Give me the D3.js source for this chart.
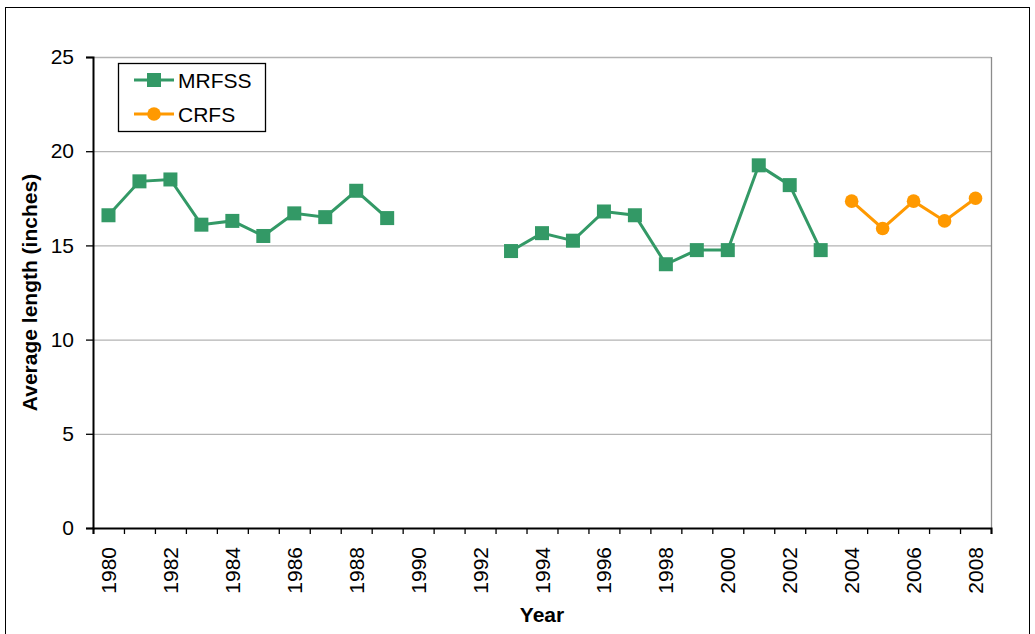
<!DOCTYPE html>
<html>
<head>
  <style>
    body { margin: 0; background: #fff; }
    svg text { font-family: "Liberation Sans", Arial, sans-serif; fill: #000; }
  </style>
</head>
<body>
  <svg width="1035" height="634"></svg>
  <script src="https://d3js.org/d3.v7.min.js"></script>
  <script>
    // data
    const years = d3.range(1980, 2009);
    const mrfssYears = [1980, 1981, 1982, 1983, 1984, 1985, 1986, 1987, 1988, 1989,
                        1993, 1994, 1995, 1996, 1997, 1998, 1999, 2000, 2001, 2002, 2003];
    const mrfssValues = [16.6, 18.4, 18.5, 16.1, 16.3, 15.5, 16.7, 16.5, 17.9, 16.45,
                         14.7, 15.65, 15.25, 16.8, 16.6, 14.0, 14.75, 14.75, 19.25, 18.2, 14.75];
    const crfsYears = [2004, 2005, 2006, 2007, 2008];
    const crfsValues = [17.35, 15.9, 17.35, 16.3, 17.5];
    const yTicks = [0, 5, 10, 15, 20, 25];
    const labelYears = years.filter(d => d % 2 === 0);

    const svg = d3.select("svg");
    const margin = {top: 57, right: 44, bottom: 106, left: 93};
    const width = 1035 - margin.left - margin.right,
          height = 634 - margin.top - margin.bottom;
    const fontSize = "21px";

    // outer frame
    svg.append("rect")
      .attr("x", 5.5).attr("y", 7.5)
      .attr("width", 1024).attr("height", 640)
      .attr("fill", "none").attr("stroke", "#000").attr("stroke-width", 1);

    const g = svg.append("g")
      .attr("transform", "translate(" + margin.left + "," + margin.top + ")");

    // category axis: ticks on year boundaries, points at centres
    const x = d3.scaleLinear().domain([1980, 2009]).range([0, width]);
    const y = d3.scaleLinear().domain([0, 25]).range([height, 0]);

    // gridlines
    g.selectAll(".grid")
      .data(yTicks.filter(d => d > 0))
      .enter().append("line")
      .attr("x1", 0).attr("x2", width)
      .attr("y1", d => y(d) + 0.5).attr("y2", d => y(d) + 0.5)
      .attr("stroke", "#b3b3b3").attr("stroke-width", 1.3);

    // right border of plot area
    g.append("line")
      .attr("x1", width + 0.5).attr("x2", width + 0.5)
      .attr("y1", 0).attr("y2", height)
      .attr("stroke", "#8c8c8c").attr("stroke-width", 1.3);

    // y axis
    const yAxis = g.append("g")
      .call(d3.axisLeft(y).tickValues(yTicks).tickSize(7).tickPadding(12));
    yAxis.select(".domain").attr("stroke", "#000").attr("stroke-width", 2);
    yAxis.selectAll(".tick line").attr("stroke", "#000").attr("stroke-width", 1.3);
    yAxis.selectAll(".tick text")
      .style("font-family", "Liberation Sans, Arial, sans-serif")
      .style("font-size", fontSize).attr("fill", "#000");

    // x axis
    const xAxis = g.append("g")
      .attr("transform", "translate(0," + height + ")")
      .call(d3.axisBottom(x).tickValues(d3.range(1980, 2010)).tickSize(6).tickFormat(""));
    xAxis.select(".domain").attr("stroke", "#000").attr("stroke-width", 2);
    xAxis.selectAll(".tick line").attr("stroke", "#000").attr("stroke-width", 1.3);

    g.selectAll(".xlabel")
      .data(labelYears)
      .enter().append("text")
      .attr("class", "xlabel")
      .attr("transform", d => "translate(" + (x(d + 0.5) + 7.5) + "," + (height + 19) + ") rotate(-90)")
      .attr("text-anchor", "end")
      .style("font-size", fontSize)
      .text(d => d);

    // axis titles
    svg.append("text")
      .attr("x", 542).attr("y", 622)
      .attr("text-anchor", "middle")
      .style("font-size", fontSize).style("font-weight", "bold")
      .text("Year");

    svg.append("text")
      .attr("transform", "translate(37," + (margin.top + height / 2) + ") rotate(-90)")
      .attr("text-anchor", "middle")
      .style("font-size", fontSize).style("font-weight", "bold")
      .text("Average length (inches)");

    const mrfss = mrfssYears.map((d, i) => ({year: d, value: mrfssValues[i]}));
    const crfs = crfsYears.map((d, i) => ({year: d, value: crfsValues[i]}));

    const line = d3.line()
      .x(d => x(d.year + 0.5))
      .y(d => y(d.value));

    // split a series where years are missing
    function segments(data) {
      const segs = [];
      let cur = [];
      data.forEach((d, i) => {
        if (i > 0 && d.year - data[i - 1].year > 1) { segs.push(cur); cur = []; }
        cur.push(d);
      });
      segs.push(cur);
      return segs;
    }

    const green = "#339966", orange = "#ff9900";

    g.selectAll(".mline")
      .data(segments(mrfss))
      .enter().append("path")
      .attr("d", line)
      .attr("fill", "none").attr("stroke", green).attr("stroke-width", 3);

    g.selectAll(".msq")
      .data(mrfss)
      .enter().append("rect")
      .attr("x", d => x(d.year + 0.5) - 7)
      .attr("y", d => y(d.value) - 7)
      .attr("width", 14).attr("height", 14)
      .attr("fill", green);

    g.append("path")
      .datum(crfs)
      .attr("d", line)
      .attr("fill", "none").attr("stroke", orange).attr("stroke-width", 3);

    g.selectAll(".cdot")
      .data(crfs)
      .enter().append("circle")
      .attr("cx", d => x(d.year + 0.5))
      .attr("cy", d => y(d.value))
      .attr("r", 6.8)
      .attr("fill", orange);

    // legend
    const legend = svg.append("g");
    legend.append("rect")
      .attr("x", 118.5).attr("y", 63.5)
      .attr("width", 147).attr("height", 68)
      .attr("fill", "#fff").attr("stroke", "#000").attr("stroke-width", 1.3);

    const legendItems = [
      {name: "MRFSS", color: green, shape: "square", y: 80},
      {name: "CRFS", color: orange, shape: "circle", y: 114}
    ];
    legendItems.forEach(item => {
      legend.append("line")
        .attr("x1", 134).attr("x2", 174)
        .attr("y1", item.y).attr("y2", item.y)
        .attr("stroke", item.color).attr("stroke-width", 3);
      if (item.shape === "square") {
        legend.append("rect")
          .attr("x", 147).attr("y", item.y - 7)
          .attr("width", 14).attr("height", 14)
          .attr("fill", item.color);
      } else {
        legend.append("circle")
          .attr("cx", 154).attr("cy", item.y).attr("r", 6.8)
          .attr("fill", item.color);
      }
      legend.append("text")
        .attr("x", 178).attr("y", item.y + 7.5)
        .style("font-size", fontSize)
        .text(item.name);
    });
  </script>
</body>
</html>
